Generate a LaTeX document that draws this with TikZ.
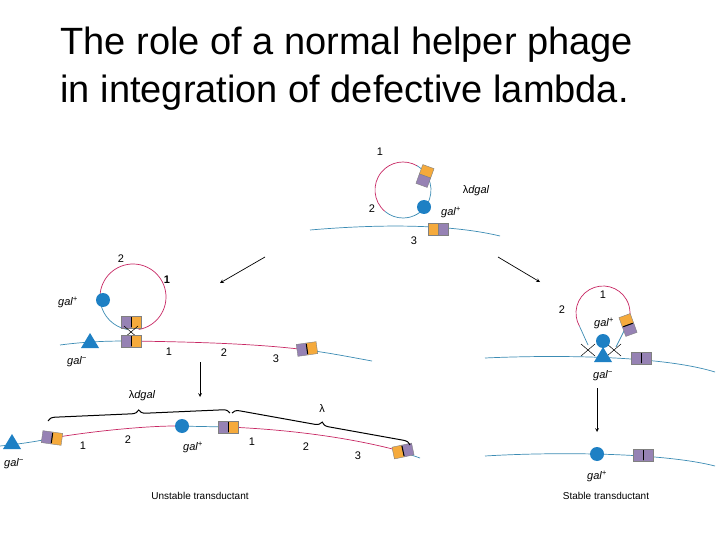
\documentclass[tikz,border=0pt]{standalone}
\usepackage{fontspec}
\setmainfont{Liberation Sans}
\usetikzlibrary{decorations.pathreplacing}
\definecolor{gblue}{RGB}{30,128,196}
\definecolor{gteal}{RGB}{60,140,180}
\definecolor{gpink}{RGB}{200,40,100}
\definecolor{gor}{RGB}{245,170,60}
\definecolor{gpu}{RGB}{150,130,180}
\newcommand\attbox[6]{\begin{scope}[shift={(#1,#2)},rotate=#3]
\filldraw[fill=#4,draw=black!50,line width=0.4pt] (-10,-6) rectangle (0,6);
\filldraw[fill=#5,draw=black!50,line width=0.4pt] (0,-6) rectangle (10,6);
\ifnum#6=1 \draw[black,line width=1pt] (0,-5)--(0,5);\fi
\end{scope}}
\newcommand\tri[2]{\fill[gblue] (#1-9,#2+6)--(#1+9,#2+6)--(#1,#2-9)--cycle;}
\newcommand\cross[2]{\draw[black,line width=0.5pt] (#1-7,#2-6)--(#1+7,#2+6) (#1-7,#2+6)--(#1+7,#2-6);}
\tikzset{lab/.style={font=\fontsize{11}{13}\selectfont},
gl/.style={font=\fontsize{11}{13}\selectfont\itshape},
tl/.style={line width=0.7pt,gteal},pl/.style={line width=0.7pt,gpink},
arr/.style={-stealth,line width=0.7pt}}
\begin{document}
\begin{tikzpicture}[x=1pt,y=-1pt]
\useasboundingbox (0,0) rectangle (720,540);
\fill[white] (0,0) rectangle (720,540);
\node[font=\fontsize{38}{48}\selectfont,align=left,anchor=west] (title) at (57,69) {The role of a normal helper phage\\in integration of defective lambda.};
% top
\draw[pl] (403,190) ++(130:28) arc[start angle=130,end angle=300,radius=28];
\draw[tl] (403,190) ++(300:28) arc[start angle=300,end angle=490,radius=28];
\fill[gblue] (424,207) circle (7);
\attbox{425}{176}{-110}{gor}{gpu}{0}
\draw[tl] (310,230) .. controls (380,224) and (450,224) .. (500,236);
\attbox{438}{229}{0}{gor}{gpu}{0}
\node[lab] (t1) at (380,152) {1};
\node[lab] (t2) at (372,209) {2};
\node[lab] (t3) at (414,241) {3};
\node[gl] (tl1) at (476,191) {\upshape λ\itshape dgal};
\node[gl] (tl2) at (451,212) {gal\textsuperscript{+}};
\draw[arr] (265,257)--(220,283);
\draw[arr] (498,257)--(540,282);
% left middle
\draw[tl] (133,297) ++(100:33) arc[start angle=100,end angle=170,radius=33];
\draw[pl] (133,297) ++(170:33) arc[start angle=170,end angle=440,radius=33];
\fill[gblue] (103,300) circle (7);
\attbox{131}{322}{0}{gpu}{gor}{1}
\cross{131}{332}
\draw[tl] (60,345) .. controls (90,341) and (115,341) .. (131,341);
\draw[pl] (131,341) .. controls (200,342) and (260,344) .. (307,350);
\draw[tl] (307,350) .. controls (330,353) and (350,357) .. (372,361);
\attbox{131}{341}{0}{gpu}{gor}{1}
\attbox{307}{349}{8}{gpu}{gor}{1}
\tri{90}{342}
\node[lab] (m2) at (121,259) {2};
\node[lab,font=\fontsize{11}{13}\selectfont\bfseries] (m1) at (167,280) {1};
\node[gl] (mg) at (68,302) {gal\textsuperscript{+}};
\node[gl] (mg2) at (77,362) {gal\textsuperscript{−}};
\node[lab] (ma) at (169,352) {1};
\node[lab] (mb) at (224,353) {2};
\node[lab] (mc) at (276,359) {3};
\draw[arr] (200,362)--(200,397);
% bottom left
\draw[tl] (0,446) .. controls (20,444) and (40,441) .. (52,438);
\draw[pl] (52,438) .. controls (100,430) and (150,426) .. (175,426);
\draw[tl] (175,426) -- (228,427);
\draw[pl] (228,427) .. controls (300,430) and (360,440) .. (400,451);
\draw[tl] (400,451) -- (420,458);
\attbox{52}{438}{-8}{gpu}{gor}{1}
\attbox{228}{427}{0}{gpu}{gor}{1}
\attbox{403}{451}{12}{gor}{gpu}{1}
\fill[gblue] (182,426) circle (7);
\tri{12}{443}
\draw[decorate,decoration={brace,amplitude=7pt},line width=1pt] (48,421) -- (230,413);
\draw[decorate,decoration={brace,amplitude=7pt},line width=1pt] (232,413) -- (410,445);
\node[gl] (bl1) at (142,396) {\upshape λ\itshape dgal};
\node[lab] (bl2) at (322,409) {λ};
\node[gl] (bg1) at (14,464) {gal\textsuperscript{−}};
\node[gl] (bg2) at (193,447) {gal\textsuperscript{+}};
\node[lab] (b1) at (83,446) {1};
\node[lab] (b2) at (128,440) {2};
\node[lab] (b3) at (252,442) {1};
\node[lab] (b4) at (306,447) {2};
\node[lab] (b5) at (358,456) {3};
\node[font=\fontsize{10}{12}\selectfont] (ut) at (200,496) {Unstable transductant};
% right
\draw[pl] (603,313) ++(150:27) arc[start angle=150,end angle=390,radius=27];
\draw[tl] (603,313) ++(150:27) -- (588,345);
\draw[tl] (626,327) -- (616,347);
\attbox{628}{325}{-70}{gor}{gpu}{1}
\cross{588}{350}
\cross{614}{350}
\draw[tl] (485,358) .. controls (550,355) and (660,355) .. (715,372);
\attbox{641}{358}{0}{gpu}{gpu}{1}
\fill[gblue] (603,341) circle (7);
\tri{603}{356}
\node[lab] (r1) at (603,295) {1};
\node[lab] (r2) at (562,310) {2};
\node[gl] (rg1) at (604,323) {gal\textsuperscript{+}};
\node[gl] (rg2) at (603,376) {gal\textsuperscript{−}};
\draw[arr] (597,388)--(597,432);
\draw[tl] (485,456) .. controls (550,452) and (660,452) .. (715,466);
\fill[gblue] (597,454) circle (7);
\attbox{643}{455}{0}{gpu}{gpu}{1}
\node[gl] (rg3) at (597,476) {gal\textsuperscript{+}};
\node[font=\fontsize{10}{12}\selectfont] (st) at (606,496) {Stable transductant};
\end{tikzpicture}
\end{document}
